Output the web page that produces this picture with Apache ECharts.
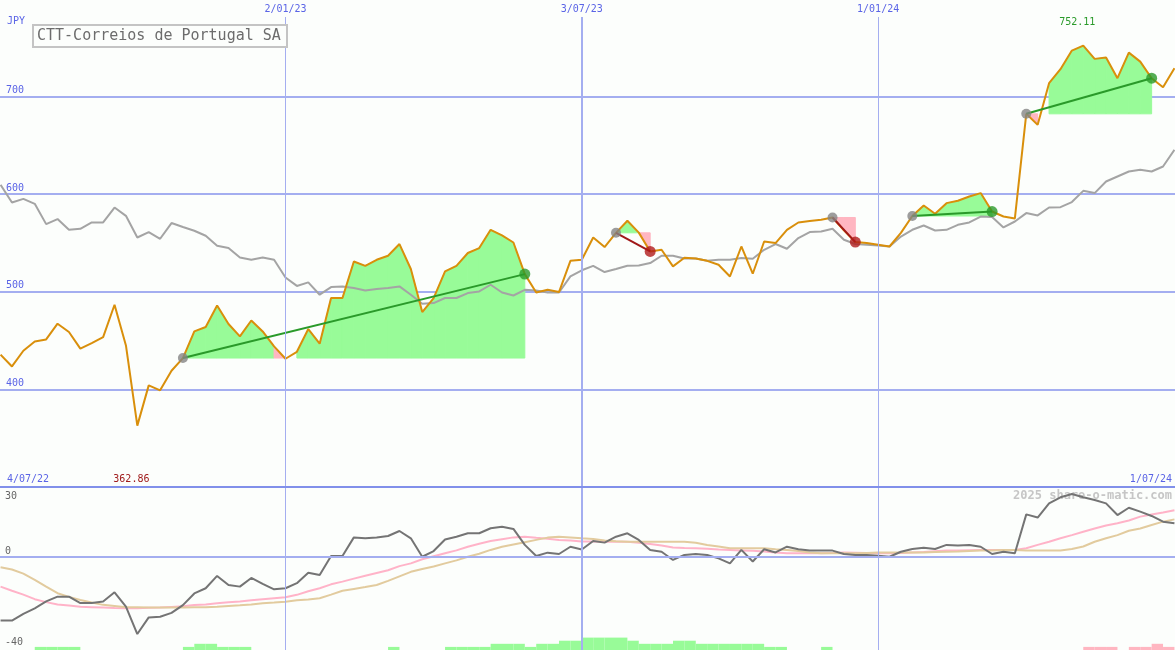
<!DOCTYPE html>
<html>
<head>
<meta charset="utf-8">
<script src="https://cdn.jsdelivr.net/npm/echarts@6/dist/echarts.min.js"></script>
<style>
html,body{margin:0;padding:0;background:#fcfefc;}
#chart{width:1175px;height:650px;}
</style>
</head>
<body>
<div id="chart"></div>
<script>
// ---------- DATA ----------
const title = 'CTT-Correios de Portugal SA';
const currency = 'JPY';
const firstWeek = '2022-07-11';           // weekly points, one per week
const rangeLabels = ['4/07/22', '1/07/24'];
const dateLineDates = ['2023-01-02', '2023-07-03', '2024-01-01'];
const dateLineLabels = ['2/01/23', '3/07/23', '1/01/24'];
const priceTicks = [400, 500, 600, 700];
const oscTicks = [30, 0, -40];

const price = [435.5,423.5,439.6,449.1,451.2,467.3,458.8,441.7,447.5,453.6,
  486.7,445,362.86,404.1,399,419.1,432.1,459.4,463.9,486,
  467,454.3,470.6,459.4,444,431.4,438.5,461.8,446.8,493.6,
  493.6,531,526.6,532.8,536.9,548.9,523.3,479.2,493.6,520.8,
  526.6,539.7,544.8,563.5,557.7,550.5,518.1,499.3,502,499.7,
  531.7,532.8,555.6,545.8,560.4,572.7,560.6,541.3,543,526,
  534.8,534.1,531.7,527.7,515.7,546.4,518.5,551.5,549.9,563.5,
  571,572.4,573.7,576.1,562.9,550.9,549.9,548.2,546.4,560.4,
  577.6,588.4,579.9,590.8,593.2,597.6,601.1,582.2,577.1,575.1,
  682.3,671,713.7,728,747.1,752.11,738.6,739.9,718.8,745,
  735.8,718.8,709.5,729];

const relative = [609.6,591.5,595.2,590.1,569.3,574.5,563.5,564.5,571,571,
  586.3,577.8,555.6,561.2,554.3,570.4,566.3,562.5,557.4,547.1,
  544.8,535.1,532.8,535.1,532.8,514.7,506,509.6,497,504.8,
  505.5,503.8,501.4,502.8,503.8,505.5,497,487.7,488.4,493.6,
  493.6,498.7,500.3,507.2,499.3,496.2,502,501.4,499.3,499.3,
  515.7,522,526.6,520.2,523.3,526.6,527,529.4,536.9,536.9,
  534.1,534.1,531.7,532.8,532.8,534.5,533.8,543,548.9,544.1,
  555,561.2,561.8,564.5,553.3,548.9,548.2,547.4,546.4,556.6,
  563.5,567.9,562.8,563.5,568.6,571,577.1,576.5,565.9,572,
  580.6,578.2,586.3,586.7,591.9,603.4,601.1,613,618.1,623.2,
  625,623.2,628.3,645.4];

// trades: entry / exit week index
const tradeEntry = [16, 54, 73, 80, 90];
const tradeExit  = [46, 57, 75, 87, 101];

const oscMain = [-27.9,-27.9,-25,-22.5,-19.5,-17.4,-17.4,-20.2,-20.2,-19.5,
  -15.5,-21.8,-33.8,-26.5,-26.2,-24.5,-21.1,-16,-13.7,-8.3,
  -12.3,-13,-9.2,-11.8,-14.2,-13.7,-11.5,-6.9,-7.9,0.4,
  0.4,8.6,8.2,8.5,9.2,11.4,8.2,0.1,2.6,7.7,
  8.9,10.4,10.4,12.6,13.3,12.3,5.3,0.4,1.9,1.3,
  4.5,3.3,7.0,6.3,8.9,10.4,7.5,3.1,2.3,-1.3,
  0.9,1.3,0.9,-0.6,-2.8,3.1,-2.0,3.4,2.0,4.5,
  3.4,2.8,2.8,2.8,1.3,0.9,0.9,0.5,0.1,2.3,
  3.5,4.1,3.5,5.3,5.0,5.3,4.5,1.3,2.3,1.6,
  18.7,17.3,23.5,26.2,27.6,26.2,25,23.5,18.4,21.6,
  19.9,18,15.5,14.8];

const oscFast = [-13,-14.8,-16.5,-18.5,-19.8,-20.8,-21.3,-21.8,-22,-22.2,
  -22.4,-22.5,-22.5,-22.3,-22.2,-21.9,-21.6,-21.1,-20.8,-20.3,
  -19.9,-19.5,-19,-18.5,-18.1,-17.7,-16.6,-15,-13.7,-12,
  -10.8,-9.5,-8.2,-7,-5.8,-4,-2.8,-1,0.3,1.6,
  2.9,4.5,5.8,7,7.8,8.6,8.9,8.4,8,7.5,
  7.2,6.8,6.8,6.7,6.7,6.7,6.2,5.7,5,4.2,
  3.9,3.8,3.6,3.3,3.1,2.9,2.7,2.4,2,1.6,
  1.6,1.6,1.6,1.8,2,1.9,1.7,1.6,1.6,1.8,
  2,2.2,2.5,2.8,2.9,3,3.1,3.1,3.1,3.1,
  3.8,5.3,6.7,8.2,9.6,11.1,12.5,13.8,14.8,16,
  17.7,18.6,19.5,20.5];

const oscSlow = [-4.5,-5.5,-7.3,-10,-13,-15.9,-17.5,-18.9,-20,-21,
  -21.5,-22,-22.1,-22.2,-22.2,-22.2,-22.2,-22.1,-22,-21.8,
  -21.5,-21.2,-20.8,-20.3,-20,-19.6,-19,-18.6,-18.1,-16.5,
  -14.8,-14,-13.2,-12.3,-10.5,-8.5,-6.5,-5.3,-4.2,-2.8,
  -1.5,0.1,1.4,3.1,4.5,5.5,6.5,7.5,8.5,8.9,
  8.6,8.2,7.9,7.2,6.9,6.7,6.7,6.7,6.7,6.7,
  6.7,6.2,5.3,4.6,3.8,3.8,3.8,3.8,3.4,3.1,
  2.6,2,1.6,1.6,1.6,1.6,1.8,2,2,2,
  2,2,2.2,2.3,2.4,2.6,2.8,2.9,3.1,3.1,
  2.9,2.8,2.8,2.8,3.5,4.6,6.7,8.2,9.6,11.5,
  12.5,14,15.5,16.5];

// signal strength per weekly interval (positive = green, negative = pink)
const signalLevel = [0,0,0,1,1,1,1,0,0,0, 0,0,0,0,0,0,1,2,2,1,
  1,1,0,0,0,0,0,0,0,0, 0,0,0,0,1,0,0,0,0,1,
  1,1,1,2,2,2,1,2,2,3, 3,4,4,4,4,3,2,2,2,3,
  3,2,2,2,2,2,2,1,1,0, 0,0,1,0,0,0,0,0,0,0,
  0,0,0,0,0,0,0,0,0,0, 0,0,0,0,0,-1,-1,-1,0,-1,
  -1,-2,-1];

// ---------- BUILD ----------
const WEEK = 7 * 864e5;
const p0 = firstWeek.split('-').map(Number);
const START = Date.UTC(p0[0], p0[1]-1, p0[2]);
const t = price.map((_, i) => START + i * WEEK);
const toTs = s => { const a = s.split('-').map(Number); return Date.UTC(a[0], a[1]-1, a[2]); };
const xMin = START - 0.05 * WEEK;
const xMax = START + 103.05 * WEEK;

const FONT = "'DejaVu Sans Mono', 'Liberation Mono', monospace";
const BLUE = '#5a64e6';
const GRID_C = '#a4aef0';
const GREEN_FILL = '#98fb98';
const PINK_FILL = '#ffb6c1';

// trade fill segments
const fillSegs = [];
tradeEntry.forEach((e, k) => {
  const x = tradeExit[k];
  const base = price[e];
  for (let i = e; i < x; i++) {
    const a = price[i], b = price[i+1];
    let c = -1;
    if (b < base) c = 1; else if (a >= base) c = 0;
    if (c >= 0) fillSegs.push([t[i], a, t[i+1], b, base, c]);
  }
});
const tradeSegs = tradeEntry.map((e, k) => [t[e], price[e], t[tradeExit[k]], price[tradeExit[k]], price[tradeExit[k]] >= price[e] ? 1 : 0]);
const entryPts = tradeEntry.map(e => [t[e], price[e]]);
const exitPts = tradeExit.map((x, k) => ({value: [t[x], price[x]], itemStyle: {color: price[x] >= price[tradeEntry[k]] ? '#2a9a2a' : '#b01c1c'}}));
const barData = [];
signalLevel.forEach((v, i) => { if (v !== 0) barData.push([t[i], t[i+1], Math.abs(v), v > 0 ? 0 : 1]); });

const dateLines = dateLineDates.map((d, k) => ({xAxis: toTs(d), name: dateLineLabels[k],
  lineStyle: {width: k === 1 ? 2 : 1, color: GRID_C, type: 'solid'}}));

const chart = echarts.init(document.getElementById('chart'), null, {renderer: 'canvas'});

const option = {
  backgroundColor: '#fcfefc',
  animation: false,
  grid: [
    {left: 0, right: 0, top: 17, height: 470},
    {left: 0, right: 0, top: 487, height: 163}
  ],
  xAxis: [
    {gridIndex: 0, type: 'time', min: xMin, max: xMax, show: false},
    {gridIndex: 1, type: 'time', min: xMin, max: xMax, show: false}
  ],
  yAxis: [
    {gridIndex: 0, type: 'value', min: 300, max: 781.5, interval: 100,
      axisLine: {show: false}, axisTick: {show: false},
      splitLine: {show: true, showMaxLine: false, showMinLine: false, lineStyle: {color: GRID_C, width: 2}},
      axisLabel: {inside: true, margin: 6, verticalAlign: 'bottom', padding: [0,0,1,0],
        color: BLUE, fontSize: 10, fontFamily: FONT, showMaxLabel: false,
        formatter: v => priceTicks.includes(v) ? String(v) : ''}},
    {gridIndex: 1, type: 'value', min: -40.8, max: 30.7, show: false},
    {gridIndex: 1, type: 'value', min: 0, max: 52.6, show: false}
  ],
  series: [
    {
      type: 'custom', name: 'fills', xAxisIndex: 0, yAxisIndex: 0, clip: true, silent: true, z: 1,
      data: fillSegs,
      renderItem: (params, api) => {
        const a0 = api.coord([api.value(0), api.value(4)]);
        const a1 = api.coord([api.value(0), api.value(1)]);
        const b1 = api.coord([api.value(2), api.value(3)]);
        const b0 = api.coord([api.value(2), api.value(4)]);
        const col = api.value(5) === 0 ? GREEN_FILL : PINK_FILL;
        return {type: 'polygon', shape: {points: [a0, a1, b1, b0]},
          style: {fill: col, stroke: col, lineWidth: 1}};
      }
    },
    {
      type: 'line', name: 'relative', xAxisIndex: 0, yAxisIndex: 0, z: 2,
      data: t.map((x, i) => [x, relative[i]]), symbol: 'none', silent: true,
      lineStyle: {color: '#a4a4a4', width: 2},
      markLine: {silent: true, symbol: 'none', data: dateLines,
        label: {show: true, position: 'end', distance: 3, color: BLUE, fontSize: 10, fontFamily: FONT,
          formatter: p => p.name}}
    },
    {
      type: 'line', name: 'price', xAxisIndex: 0, yAxisIndex: 0, z: 3,
      data: t.map((x, i) => [x, price[i]]), symbol: 'none', silent: true,
      lineStyle: {color: '#d98f0b', width: 2}
    },
    {
      type: 'custom', name: 'trades', xAxisIndex: 0, yAxisIndex: 0, z: 4, silent: true,
      data: tradeSegs,
      renderItem: (params, api) => {
        const a = api.coord([api.value(0), api.value(1)]);
        const b = api.coord([api.value(2), api.value(3)]);
        return {type: 'line', shape: {x1: a[0], y1: a[1], x2: b[0], y2: b[1]},
          style: {stroke: api.value(4) === 1 ? '#2a9a2a' : '#a01818', lineWidth: 2}};
      }
    },
    {
      type: 'scatter', name: 'entry', xAxisIndex: 0, yAxisIndex: 0, z: 5, silent: true,
      data: entryPts, symbol: 'circle', symbolSize: 10, itemStyle: {color: '#858585'}
    },
    {
      type: 'scatter', name: 'exit', xAxisIndex: 0, yAxisIndex: 0, z: 5, silent: true,
      data: exitPts, symbol: 'circle', symbolSize: 11
    },
    // lower panel
    {
      type: 'custom', name: 'signal', xAxisIndex: 1, yAxisIndex: 2, z: 1, silent: true, clip: true,
      data: barData,
      renderItem: (params, api) => {
        const a = api.coord([api.value(0), api.value(2)]);
        const b = api.coord([api.value(1), 0]);
        return {type: 'rect', shape: {x: a[0], y: a[1], width: b[0] - a[0], height: b[1] - a[1]},
          style: {fill: api.value(3) === 0 ? GREEN_FILL : PINK_FILL}};
      }
    },
    {
      type: 'line', name: 'fast', xAxisIndex: 1, yAxisIndex: 1, z: 2, silent: true,
      data: t.map((x, i) => [x, oscFast[i]]), symbol: 'none',
      lineStyle: {color: '#ffb3c8', width: 2},
      markLine: {silent: true, symbol: 'none', label: {show: false},
        data: dateLines.map(d => Object.assign({}, d, {name: ''})).concat([
          {yAxis: 0, lineStyle: {color: GRID_C, width: 2, type: 'solid'}}])}
    },
    {
      type: 'line', name: 'slow', xAxisIndex: 1, yAxisIndex: 1, z: 3, silent: true,
      data: t.map((x, i) => [x, oscSlow[i]]), symbol: 'none',
      lineStyle: {color: '#e2cb9e', width: 2}
    },
    {
      type: 'line', name: 'osc', xAxisIndex: 1, yAxisIndex: 1, z: 4, silent: true,
      data: t.map((x, i) => [x, oscMain[i]]), symbol: 'none',
      lineStyle: {color: '#747474', width: 2}
    }
  ]
};
chart.setOption(option);

// labels that depend on positions
let iMin = 0, iMax = 0;
price.forEach((v, i) => { if (v < price[iMin]) iMin = i; if (v > price[iMax]) iMax = i; });
const pxMin = chart.convertToPixel({gridIndex: 0}, [t[iMin], price[iMin]]);
const pxMax = chart.convertToPixel({gridIndex: 0}, [t[iMax], price[iMax]]);
const oscY = v => chart.convertToPixel({gridIndex: 1}, [t[0], v])[1];

const txt = (x, y, s, color, opts) => Object.assign({type: 'text', x, y, silent: true,
  style: Object.assign({text: s, fill: color, font: '10px ' + FONT, textAlign: 'left', textVerticalAlign: 'middle'}, opts || {})});

const graphics = [
  {type: 'rect', silent: true, z: 50, shape: {x: 0, y: 486, width: 1175, height: 2}, style: {fill: '#8190ea'}},
  txt(7, 21, currency, BLUE),
  {type: 'rect', silent: true, z: 50, shape: {x: 33, y: 25, width: 254, height: 22},
    style: {fill: '#fcfefc', stroke: '#c4c4c4', lineWidth: 2}},
  Object.assign(txt(37, 36.5, title, '#6c6c6c', {font: '15px ' + FONT}), {z: 51}),
  txt(7, 479, rangeLabels[0], BLUE),
  txt(1172, 479, rangeLabels[1], BLUE, {textAlign: 'right'}),
  txt(pxMin[0] - 24, 479, price[iMin].toFixed(2), '#a01c1c'),
  txt(pxMax[0] - 24, 22, price[iMax].toFixed(2), '#2a9a2a'),
  Object.assign(txt(1172, 496, '2025 share-o-matic.com', '#c6c6c6', {textAlign: 'right', font: 'bold 12px ' + FONT}), {z: 0}),
  txt(5, oscY(oscTicks[0]) + 8, String(oscTicks[0]), '#666666'),
  txt(5, oscY(oscTicks[1]) - 6, String(oscTicks[1]), '#666666'),
  txt(5, oscY(oscTicks[2]) - 6, String(oscTicks[2]), '#666666')
];
chart.setOption({graphic: graphics});
</script>
</body>
</html>
